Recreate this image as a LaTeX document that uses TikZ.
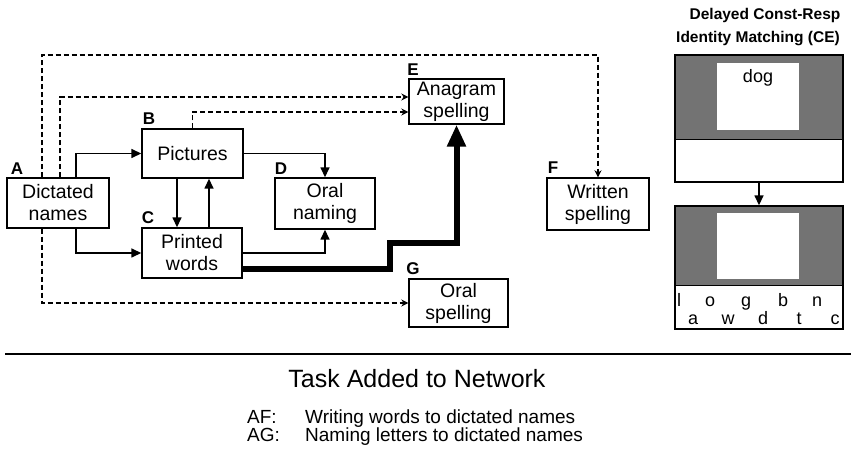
\documentclass[tikz,border=0pt]{standalone}
\usepackage{fontspec}
\setmainfont{Liberation Sans}
\usetikzlibrary{arrows.meta,calc}
\begin{document}
\begin{tikzpicture}[x=1pt,y=-1pt,
  box/.style={draw,line width=1.4pt,align=center,inner sep=0pt,font=\fontsize{19.5}{22}\selectfont},
  lab/.style={font=\bfseries\fontsize{17}{17}\selectfont,inner sep=0pt},
  conn/.style={line width=1.5pt,-{Triangle[length=10pt,width=9pt]}},
  dconn/.style={line width=1.4pt,dash pattern=on 5pt off 3pt,-{Stealth[length=7pt,width=7pt]}},
  heavy/.style={line width=6pt,-{Triangle[length=22pt,width=18pt]}},
  shade/.style={fill=black!55},
  ltr/.style={anchor=base,inner sep=0pt,font=\fontsize{18}{18}\selectfont}
]
\useasboundingbox (0,0) rectangle (851,462);

% network boxes
\node[box,minimum width=102pt,minimum height=50pt] (A) at (58,203) {Dictated\\names};
\node[box,minimum width=101pt,minimum height=49pt] (B) at (192.5,153.5) {Pictures};
\node[box,minimum width=100pt,minimum height=50pt] (C) at (192,253) {Printed\\words};
\node[box,minimum width=100pt,minimum height=51pt] (D) at (325,203.5) {Oral\\naming};
\node[box,minimum width=95pt,minimum height=45pt] (E) at (456.5,101.5) {Anagram\\spelling};
\node[box,minimum width=102pt,minimum height=52pt] (F) at (598,204) {Written\\spelling};
\node[box,minimum width=99pt,minimum height=48pt] (G) at (458.5,303) {Oral\\spelling};

% letter labels
\node[lab,anchor=base] (lA) at (17,175) {A};
\node[lab,anchor=base] (lB) at (149,125) {B};
\node[lab,anchor=base] (lC) at (148,224) {C};
\node[lab,anchor=base] (lD) at (281,175) {D};
\node[lab,anchor=base] (lE) at (413,76) {E};
\node[lab,anchor=base] (lF) at (553,174) {F};
\node[lab,anchor=base] (lG) at (413,275) {G};

% solid connectors
\draw[conn] ([xshift=18pt]A.north) |- (B.west);
\draw[conn] ([xshift=18pt]A.south) |- (C.west);
\draw[conn] (B.east) -| (D.north);
\draw[conn] (C.east) -| (D.south);
\draw[conn] ([xshift=-15.5pt]B.south) -- ([xshift=-15pt]C.north);
\draw[conn] ([xshift=17pt]C.north) -- ([xshift=16.5pt]B.south);

% heavy connector
\coordinate (h1) at (390,269);
\coordinate (h2) at (390,243);
\draw[heavy] ([yshift=-16pt]C.east) -- (h1) -- (h2) -| (E.south);

% dashed connectors
\coordinate (topAF) at (0,55);
\draw[dconn] ([xshift=-16pt]A.north) |- (topAF -| F.north) -- (F.north);
\draw[dconn] ([xshift=2pt]A.north) |- ([yshift=4.5pt]E.west);
\draw[dconn] (B.north) |- ([yshift=-10.5pt]E.west);
\draw[dconn] ([xshift=-16pt]A.south) |- (G.west);

% right panel
\node[anchor=base,inner sep=0pt,font=\bfseries\fontsize{15.5}{15.5}\selectfont] (t1) at (765,20) {Delayed Const-Resp};
\node[anchor=base,inner sep=0pt,font=\bfseries\fontsize{15.5}{15.5}\selectfont] (t2) at (758,43) {Identity Matching (CE)};

\fill[shade] (675,55) rectangle (843,140);
\fill[white] (717,63) rectangle (799,130);
\node[draw,line width=1.4pt,minimum width=168pt,minimum height=127pt,inner sep=0pt] (S1) at (759,118.5) {};
\draw[line width=1pt] (675,140) -- (843,140);
\node[anchor=base,inner sep=0pt,font=\fontsize{18}{18}\selectfont] (dog) at (758,83) {dog};

\fill[shade] (675,206) rectangle (843,286);
\fill[white] (717,213) rectangle (799,279);
\node[draw,line width=1.4pt,minimum width=168pt,minimum height=123pt,inner sep=0pt] (S2) at (759,267.5) {};
\draw[line width=1pt] (675,286) -- (843,286);
\draw[conn] (S1.south) -- (S2.north);

\node[ltr] (l1) at (679,306) {l};
\node[ltr] (l2) at (710,306) {o};
\node[ltr] (l3) at (746,306) {g};
\node[ltr] (l4) at (783,306) {b};
\node[ltr] (l5) at (817,306) {n};
\node[ltr] (l6) at (693,324) {a};
\node[ltr] (l7) at (728,324) {w};
\node[ltr] (l8) at (763,324) {d};
\node[ltr] (l9) at (799,324) {t};
\node[ltr] (l10) at (835,324) {c};

% rule and legend
\draw[line width=1.8pt] (5,354) -- (851,354);
\node[anchor=base,inner sep=0pt,font=\fontsize{25}{25}\selectfont] (task) at (417,387) {Task Added to Network};
\node[anchor=base west,inner sep=0pt,font=\fontsize{19}{19}\selectfont] (af) at (247,423) {AF:};
\node[anchor=base west,inner sep=0pt,font=\fontsize{19}{19}\selectfont] (afx) at (305,423) {Writing words to dictated names};
\node[anchor=base west,inner sep=0pt,font=\fontsize{19}{19}\selectfont] (ag) at (247,441) {AG:};
\node[anchor=base west,inner sep=0pt,font=\fontsize{19}{19}\selectfont] (agx) at (305,441) {Naming letters to dictated names};
\end{tikzpicture}
\end{document}
